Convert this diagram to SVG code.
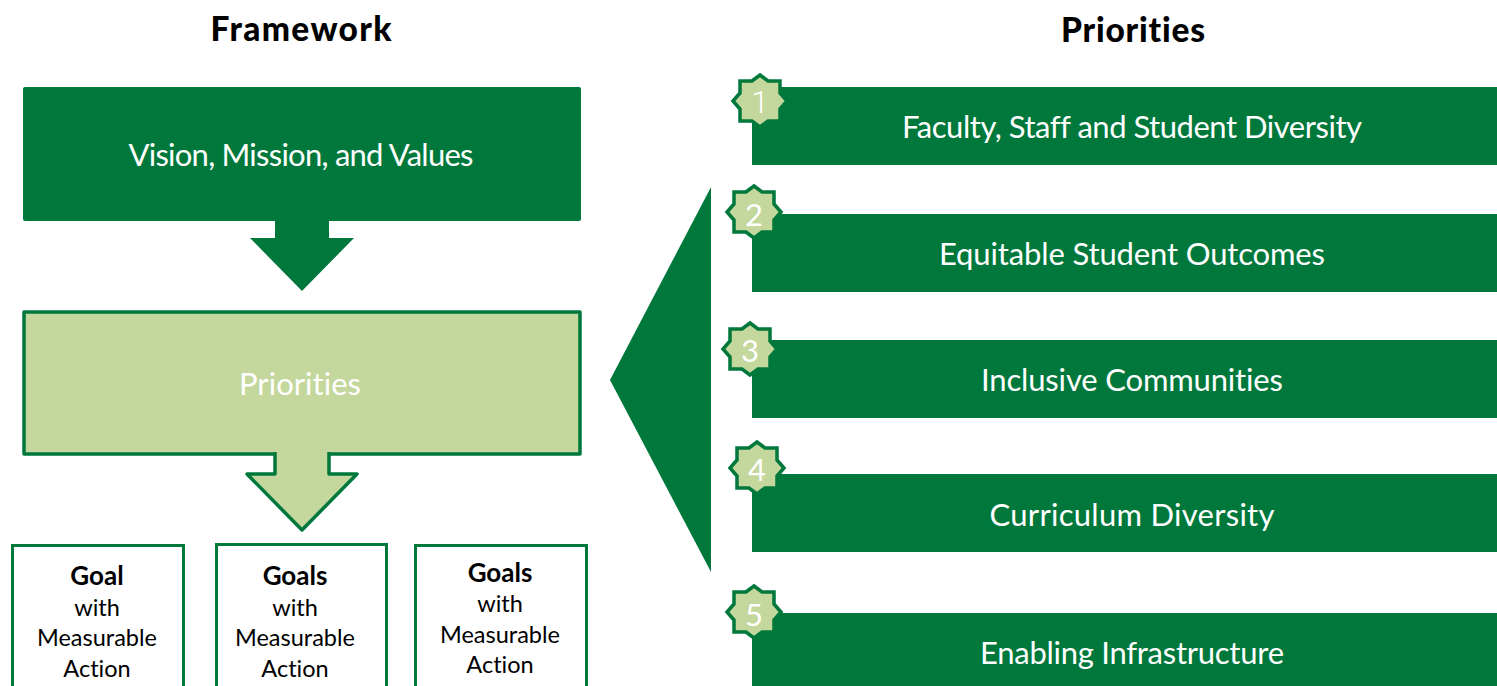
<svg xmlns="http://www.w3.org/2000/svg" width="1497" height="686" viewBox="0 0 1497 686">
<style>
text{font-family:"Lato","Noto Sans",sans-serif;text-anchor:middle;font-variant-ligatures:none}
.t{font-size:33.5px;font-weight:900;fill:#000}
.w{font-size:31px;fill:#fff}
.n{font-size:31px;fill:#fff}
.one{font-family:"Roboto",sans-serif;font-weight:300}
.g{font-size:23.5px;fill:#000}
.b{font-size:26px;font-weight:700}
.dark{fill:#00783c}
.lite{fill:#c4d79c;stroke:#00783c;stroke-width:3.5;stroke-linejoin:round}
.box{fill:#fff;stroke:#00783c;stroke-width:3}
.star{fill:#c4d79c;stroke:#00783c;stroke-width:3.500}
</style>
<defs>
<polygon id="s" points="0,-26 8,-20 20,-20 20,-8 27,0 20,8 20,20 8,20 0,26 -8,20 -20,20 -20,8 -27,0 -20,-8 -20,-20 -8,-20"/>
</defs>
<text class="t" x="301" y="41" textLength="181">Framework</text>
<text class="t" x="1133" y="42" textLength="144">Priorities</text>
<g id="vision"><rect class="dark" x="23" y="87" width="558" height="134" rx="2"/><text class="w" x="301" y="166" textLength="345">Vision, Mission, and Values</text></g>
<g id="priorities"><rect class="lite" x="24" y="312" width="556" height="142"/><text class="w" x="300" y="395" textLength="122">Priorities</text></g>
<g id="goal1"><rect class="box" x="12.500" y="545.500" width="171" height="160"/><text class="g b" x="97" y="585">Goal</text><text class="g" x="97" y="616">with</text><text class="g" x="97" y="646">Measurable</text><text class="g" x="97" y="677">Action</text></g>
<g id="goal2"><rect class="box" x="216.500" y="544.500" width="170" height="160"/><text class="g b" x="295" y="585">Goals</text><text class="g" x="295" y="616">with</text><text class="g" x="295" y="646">Measurable</text><text class="g" x="295" y="677">Action</text></g>
<g id="goal3"><rect class="box" x="415.500" y="545.500" width="171" height="160"/><text class="g b" x="500" y="582">Goals</text><text class="g" x="500" y="612">with</text><text class="g" x="500" y="643">Measurable</text><text class="g" x="500" y="673">Action</text></g>
<g id="p1"><rect class="dark" x="752" y="87" width="745" height="78"/><use href="#s" class="star" x="760" y="101"/><text class="n one" x="760" y="113">1</text><text class="w" x="1132" y="138" textLength="460">Faculty, Staff and Student Diversity</text></g>
<g id="p2"><rect class="dark" x="752" y="214" width="745" height="78"/><use href="#s" class="star" x="754" y="212"/><text class="n" x="754" y="226">2</text><text class="w" x="1132" y="265" textLength="386">Equitable Student Outcomes</text></g>
<g id="p3"><rect class="dark" x="752" y="340" width="745" height="78"/><use href="#s" class="star" x="750" y="349"/><text class="n" x="750" y="362">3</text><text class="w" x="1132" y="391" textLength="302">Inclusive Communities</text></g>
<g id="p4"><rect class="dark" x="752" y="474" width="745" height="78"/><use href="#s" class="star" x="757" y="468"/><text class="n" x="757" y="481">4</text><text class="w" x="1132" y="526" textLength="285">Curriculum Diversity</text></g>
<g id="p5"><rect class="dark" x="752" y="613" width="745" height="78"/><use href="#s" class="star" x="754" y="612"/><text class="n" x="754" y="626">5</text><text class="w" x="1132" y="664" textLength="304">Enabling Infrastructure</text></g>
<g id="connectors">
<polygon class="dark" points="275,221 329,221 329,238 354,238 302,291 250,238 275,238"/>
<path class="lite" d="M275,452 V474 H247 L302,530 L357,474 H329 V452"/>
<polygon class="dark" points="610,380 711,187 711,572"/>
</g>
</svg>
